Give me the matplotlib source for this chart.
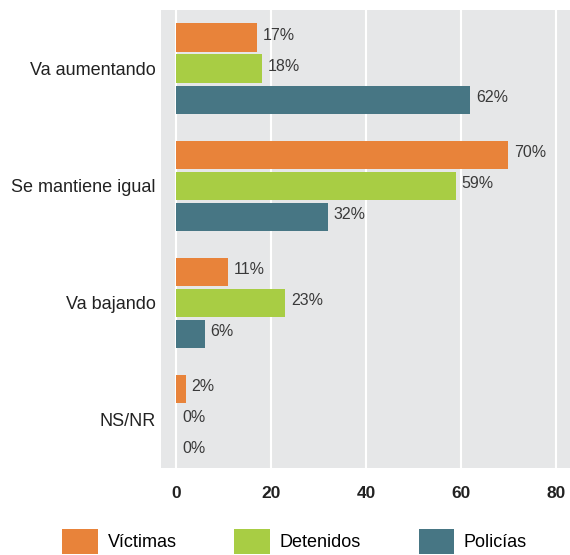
import numpy as np
import matplotlib.pyplot as plt

categories = ['Va aumentando', 'Se mantiene igual', 'Va bajando', 'NS/NR']
series = ['Víctimas', 'Detenidos', 'Policías']
victimas = [17, 70, 11, 2]
detenidos = [18, 59, 23, 0]
policias = [62, 32, 6, 0]
ticks = [0, 20, 40, 60, 80]

colors = ['#e8833a', '#a8cd44', '#477684']
values = [victimas, detenidos, policias]

plt.rcParams['font.family'] = ['Liberation Sans', 'DejaVu Sans']

fig = plt.figure(figsize=(5.7, 5.55), dpi=100)
ax = fig.add_axes([0.2825, 0.157, 0.7175, 0.825])
ax.set_facecolor('#e6e7e8')

ind = np.arange(len(categories))
height = 0.24
step = 0.265

handles = []
for k, (vals, col, name) in enumerate(zip(values, colors, series)):
    pos = ind + (k - 1) * step
    b = ax.barh(pos, vals, height, color=col, label=name, zorder=3)
    handles.append(b)
    for p, v in zip(pos, vals):
        ax.text(v + 1.2, p - 0.02, f'{v}%', ha='left', va='center', fontsize=11.5,
                color='#3a3a3a', zorder=4)

ax.set_xlim(-3.2, 83)
ax.set_ylim(3.41, -0.5)
ax.set_xticks(ticks)
ax.set_xticklabels([str(t) for t in ticks], fontweight='bold', fontsize=12.5,
                   color='#222222')
ax.set_yticks(ind)
ax.set_yticklabels(categories, fontsize=13, color='#222222')
ax.tick_params(axis='both', length=0)
ax.tick_params(axis='x', pad=13)
ax.tick_params(axis='y', pad=4)
ax.grid(axis='x', color='white', linewidth=1.5, zorder=1)
for s in ax.spines.values():
    s.set_visible(False)

fig.legend(handles=handles, labels=series, loc='lower left', ncol=3,
           bbox_to_anchor=(0.081, -0.027), frameon=False, fontsize=13,
           handlelength=1.95, handleheight=1.75, handletextpad=0.55,
           columnspacing=3.2)

fig.savefig('out.png', dpi=100)
